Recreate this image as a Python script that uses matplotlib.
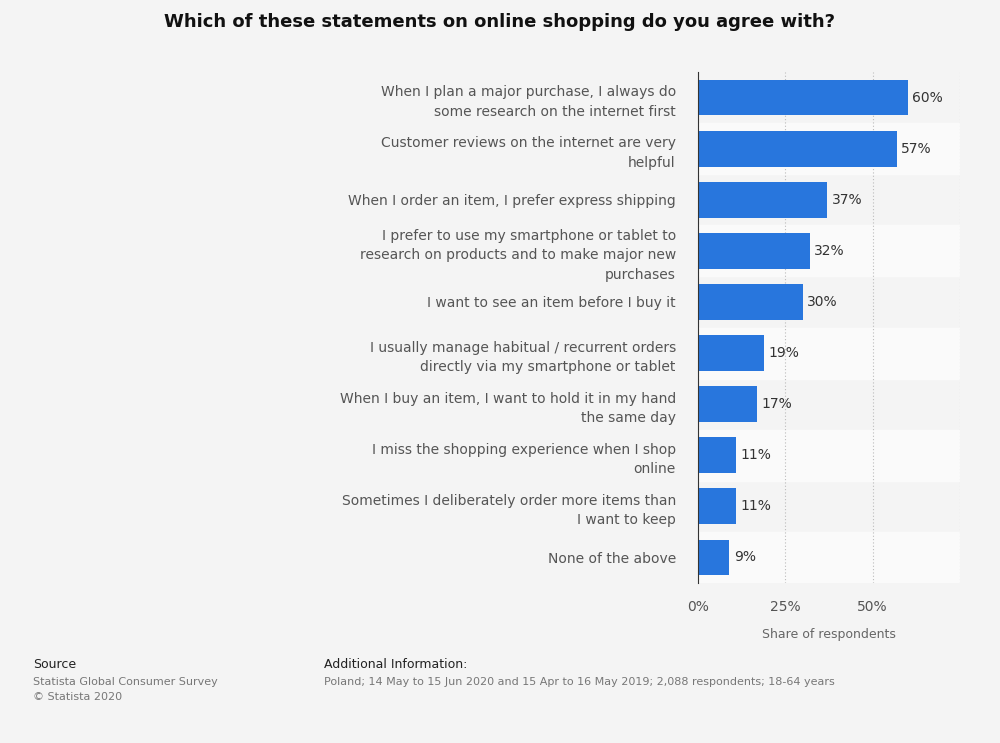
import matplotlib
matplotlib.use("Agg")
import matplotlib.pyplot as plt

categories = [
    "When I plan a major purchase, I always do\nsome research on the internet first",
    "Customer reviews on the internet are very\nhelpful",
    "When I order an item, I prefer express shipping",
    "I prefer to use my smartphone or tablet to\nresearch on products and to make major new\npurchases",
    "I want to see an item before I buy it",
    "I usually manage habitual / recurrent orders\ndirectly via my smartphone or tablet",
    "When I buy an item, I want to hold it in my hand\nthe same day",
    "I miss the shopping experience when I shop\nonline",
    "Sometimes I deliberately order more items than\nI want to keep",
    "None of the above",
]
values = [60, 57, 37, 32, 30, 19, 17, 11, 11, 9]
ticks = [0, 25, 50, 75]
tick_labels = ["0%", "25%", "50%", ""]

bg = "#f4f4f4"
fig = plt.figure(figsize=(10, 7.43), dpi=100, facecolor=bg)
ax = fig.add_axes([0.698, 1 - 583/743, 0.262, (583 - 72)/743])
ax.set_facecolor(bg)
n = len(values)
ys = list(range(n))
for i in ys:
    if i % 2 == 1:
        ax.axhspan(i - 0.5, i + 0.5, color="#fafafa", zorder=0)
ax.barh(ys, values, height=0.7, color="#2876dd", zorder=3)
for y, v in zip(ys, values):
    ax.text(v + 1.2, y, f"{v}%", va="center", ha="left", fontsize=10, color="#333333", zorder=4)
ax.set_ylim(n - 0.5, -0.5)
ax.set_xlim(0, 75)
ax.set_yticks(ys)
ax.set_yticklabels(categories, fontsize=10, color="#555555", linespacing=1.5)
ax.set_xticks(ticks)
ax.set_xticklabels(tick_labels, fontsize=10, color="#555555")
ax.tick_params(axis="both", length=0, pad=12)
ax.tick_params(axis="y", pad=16)
ax.xaxis.grid(True, linestyle=(0, (1, 2)), color="#bbbbbb", zorder=1)
for s in ["top", "right", "bottom"]:
    ax.spines[s].set_visible(False)
ax.spines["left"].set_color("#333333")
ax.spines["left"].set_zorder(5)
ax.set_xlabel("Share of respondents", fontsize=9, color="#666666", labelpad=10)

fig.text(0.5, 1 - 22/743, "Which of these statements on online shopping do you agree with?",
         ha="center", va="center", fontsize=13, fontweight="bold", color="#111111")
fig.text(0.033, 1 - 665/743, "Source", fontsize=9, color="#222222", va="center")
fig.text(0.033, 1 - 682/743, "Statista Global Consumer Survey", fontsize=8, color="#777777", va="center")
fig.text(0.033, 1 - 697/743, "© Statista 2020", fontsize=8, color="#777777", va="center")
fig.text(0.324, 1 - 665/743, "Additional Information:", fontsize=9, color="#222222", va="center")
fig.text(0.324, 1 - 682/743, "Poland; 14 May to 15 Jun 2020 and 15 Apr to 16 May 2019; 2,088 respondents; 18-64 years",
         fontsize=8, color="#777777", va="center")
fig.savefig("out.png", dpi=100, facecolor=bg)
